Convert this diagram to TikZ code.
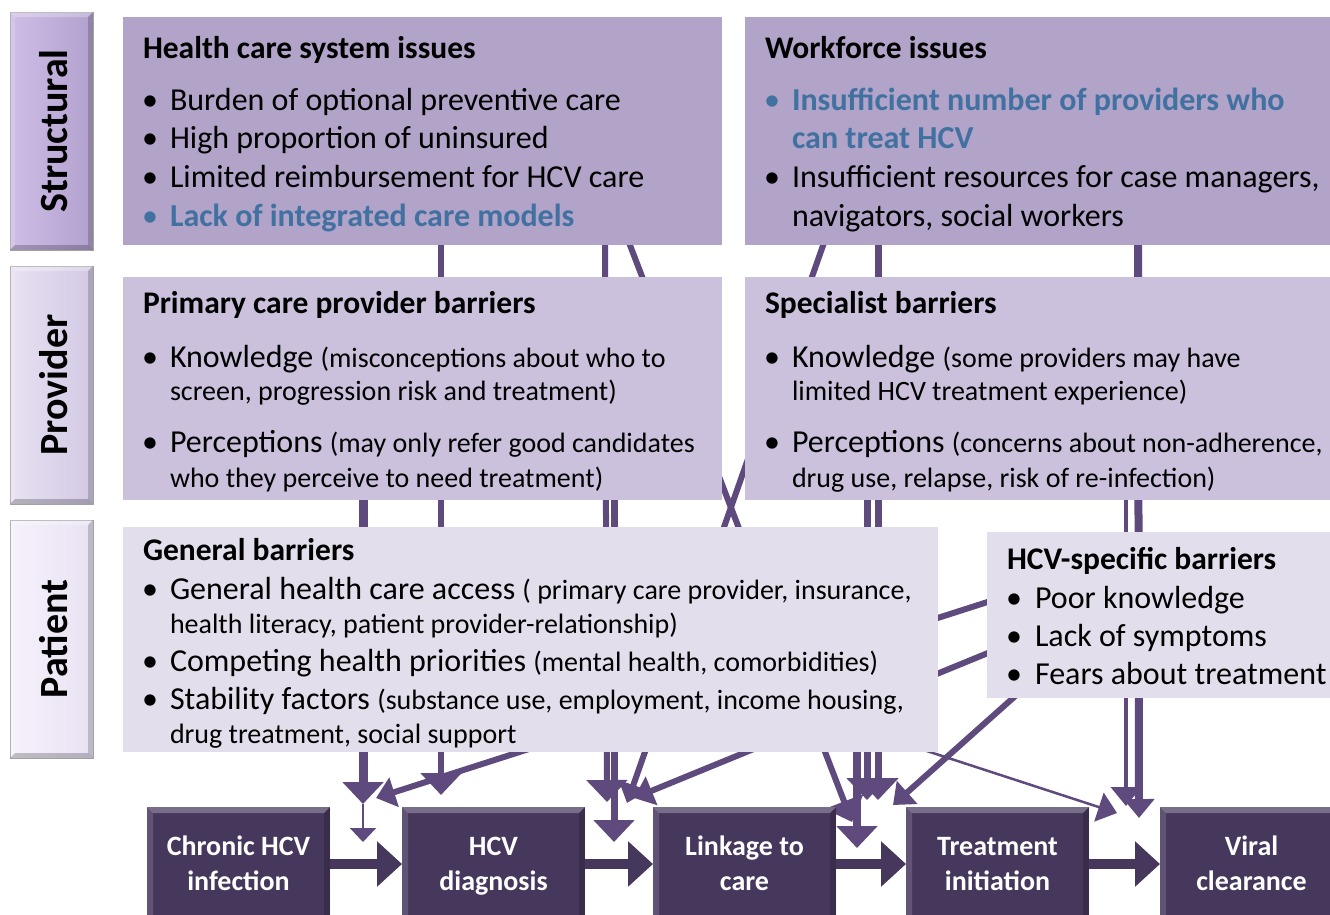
\documentclass[tikz,border=0pt]{standalone}
\usepackage{fontspec}
\setmainfont{Carlito}
\usetikzlibrary{arrows.meta,calc}

\definecolor{strfill}{RGB}{178,163,200}
\definecolor{provfill}{RGB}{203,193,220}
\definecolor{patfill}{RGB}{227,222,236}
\definecolor{flowcol}{RGB}{95,74,125}
\definecolor{stagefill}{RGB}{70,55,92}
\definecolor{hiblue}{RGB}{65,113,160}
\definecolor{labS1}{RGB}{206,190,230}
\definecolor{labS2}{RGB}{178,160,206}
\definecolor{labP1}{RGB}{232,226,242}
\definecolor{labP2}{RGB}{210,200,228}
\definecolor{labT1}{RGB}{246,242,251}
\definecolor{labT2}{RGB}{232,225,243}

\newcommand{\smalltxt}{\fontsize{28}{33}\selectfont}

\tikzset{
  panel/.style={anchor=north west, inner sep=0pt, outer sep=0pt, draw=none},
  label box/.style={anchor=north west, inner sep=0pt, outer sep=0pt, draw=black!35, line width=1pt,
    minimum width=83pt, minimum height=238pt},
  stage/.style={anchor=north west, inner sep=0pt, outer sep=0pt, fill=stagefill,
    minimum width=183pt, minimum height=114pt},
  ln/.style={anchor=base west, inner sep=0pt, outer sep=0pt},
  hd/.style={ln, font=\fontsize{31.5}{36}\selectfont\bfseries},
  tx/.style={ln, font=\fontsize{32}{38}\selectfont},
  sm/.style={ln, font=\smalltxt},
  hi/.style={ln, font=\fontsize{32}{38}\selectfont\bfseries, text=hiblue},
  dot/.style={anchor=base, inner sep=0pt, outer sep=0pt, font=\fontsize{32}{38}\selectfont},
  hidot/.style={dot, text=hiblue},
  stagetxt/.style={anchor=base, inner sep=0pt, text=white, font=\fontsize{28}{33}\selectfont\bfseries},
  labtxt/.style={rotate=90, inner sep=0pt, font=\fontsize{40}{46}\selectfont\bfseries},
  link/.style={draw=flowcol, line width=6pt},
  bighead/.style={-{Triangle[width=40pt,length=22pt]}},
  midhead/.style={-{Triangle[width=30pt,length=19pt]}},
  smallhead/.style={-{Triangle[width=26pt,length=14pt]}},
  flow/.style={draw=stagefill, line width=10pt, -{Triangle[width=44pt,length=25pt]}},
}

% bevelled edges on a rectangular node
\newcommand{\bevelnode}[2]{%
  \fill[white, fill opacity=0.28] (#1.north west) -- (#1.north east) -- ($(#1.north east)+(-#2,#2)$) -- ($(#1.north west)+(#2,#2)$) -- cycle;
  \fill[white, fill opacity=0.14] (#1.north west) -- ($(#1.north west)+(#2,#2)$) -- ($(#1.south west)+(#2,-#2)$) -- (#1.south west) -- cycle;
  \fill[black, fill opacity=0.18] (#1.north east) -- ($(#1.north east)+(-#2,#2)$) -- ($(#1.south east)+(-#2,-#2)$) -- (#1.south east) -- cycle;
  \fill[black, fill opacity=0.22] (#1.south west) -- ($(#1.south west)+(#2,-#2)$) -- ($(#1.south east)+(-#2,-#2)$) -- (#1.south east) -- cycle;
}

\begin{document}
\begin{tikzpicture}[x=1pt, y=-1pt]
\useasboundingbox (0,0) rectangle (1330,914);
\fill[white] (0,0) rectangle (1330,914);
\clip (0,0) rectangle (1330,914);

% connector start points inside the panels
\coordinate (s1) at (441,230);
\coordinate (s2) at (363,480);
\coordinate (s4) at (1000,598);
\coordinate (s5) at (605,230);
\coordinate (s6) at (614,480);
\coordinate (s7) at (826,237);
\coordinate (s8) at (1005,646);
\coordinate (s9) at (628,240);
\coordinate (s10) at (878,230);
\coordinate (s11) at (867,480);
\coordinate (s12) at (857,720);
\coordinate (s13) at (1022,690);
\coordinate (s14) at (700,677);
\coordinate (s15) at (1126,480);
\coordinate (s16) at (1138,230);
% connector ends above the care cascade
\coordinate (e1) at (441,795);
\coordinate (e2) at (363,804);
\coordinate (e3) at (363,842);
\coordinate (e4) at (376,798);
\coordinate (e5) at (607,802);
\coordinate (e6) at (614,842);
\coordinate (e7) at (627,803);
\coordinate (e8) at (634,798);
\coordinate (e9) at (852,822);
\coordinate (e10) at (878,800);
\coordinate (e11) at (867,800);
\coordinate (e12) at (857,848);
\coordinate (e13) at (893,805);
\coordinate (e14) at (1117,813);
\coordinate (e15) at (1126,806);
\coordinate (e16) at (1139,818);

% ---------- connectors (panels hide their hidden parts) ----------
\draw[link, bighead] (s1) -- (e1);
\draw[link, line width=9pt, bighead] (s2) -- (e2);
\draw[link, line width=2pt, smallhead] (e2) -- (e3);
\draw[link, midhead] (s4) -- (e4);
\draw[link, bighead] (s5) -- (e5);
\draw[link, line width=7pt, bighead] (s6) -- (e6);
\draw[link, midhead] (s7) -- (e7);
\draw[link, midhead] (s8) -- (e8);
\draw[link, bighead] (s9) -- (e9);
\draw[link, line width=7pt, bighead] (s10) -- (e10);
\draw[link, line width=7pt, bighead] (s11) -- (e11);
\draw[link, line width=8pt, bighead] (s12) -- (e12);
\draw[link, midhead] (s13) -- (e13);
\draw[link, line width=2.5pt, midhead] (s14) -- (e14);
\draw[link, line width=4pt, midhead] (s15) -- (e15);
\draw[link, line width=8pt, midhead] (s16) -- (e16);

% ---------- panels ----------
\node[panel, fill=strfill, minimum width=599pt, minimum height=228pt] (hcs) at (123,17) {};
\node[panel, fill=strfill, minimum width=600pt, minimum height=228pt] (wf) at (745,17) {};
\node[panel, fill=provfill, minimum width=599pt, minimum height=223pt] (pcp) at (123,277) {};
\node[panel, fill=provfill, minimum width=600pt, minimum height=223pt] (spec) at (745,277) {};
\node[panel, fill=patfill, minimum width=815pt, minimum height=225pt] (gen) at (123,527) {};
\node[panel, fill=patfill, minimum width=360pt, minimum height=166pt] (hcvb) at (987,532) {};

% ---------- level labels ----------
\node[label box, left color=labS1, right color=labS2] (labS) at (10,12) {};
\node[label box, left color=labP1, right color=labP2] (labP) at (10,266) {};
\node[label box, left color=labT1, right color=labT2] (labT) at (10,520) {};
\bevelnode{labS}{5}
\bevelnode{labP}{5}
\bevelnode{labT}{5}
\node[labtxt] (labStxt) at ($(labS.center)+(2,0)$) {Structural};
\node[labtxt] (labPtxt) at ($(labP.center)+(2,0)$) {Provider};
\node[labtxt] (labTtxt) at ($(labT.center)+(2,0)$) {Patient};

% ---------- structural texts ----------
\node[hd] (h1) at (143,58) {Health care system issues};
\node[dot] (b11) at (150,110) {•};
\node[tx] (t11) at (170,110) {Burden of optional preventive care};
\node[dot] (b12) at (150,148) {•};
\node[tx] (t12) at (170,148) {High proportion of uninsured};
\node[dot] (b13) at (150,187) {•};
\node[tx] (t13) at (170,187) {Limited reimbursement for HCV care};
\node[hidot] (b14) at (150,226) {•};
\node[hi] (t14) at (170,226) {Lack of integrated care models};

\node[hd] (h2) at (765,58) {Workforce issues};
\node[hidot] (b21) at (772,110) {•};
\node[hi] (t21) at (792,110) {Insufficient number of providers who};
\node[hi] (t21b) at (792,148) {can treat HCV};
\node[dot] (b22) at (772,187) {•};
\node[tx] (t22) at (792,187) {Insufficient resources for case managers,};
\node[tx] (t22b) at (792,226) {navigators, social workers};

% ---------- provider texts ----------
\node[hd] (h3) at (143,313) {Primary care provider barriers};
\node[dot] (b31) at (150,367) {•};
\node[tx] (t31) at (170,367) {Knowledge {\smalltxt(misconceptions about who to}};
\node[sm] (t31b) at (170,400) {screen, progression risk and treatment)};
\node[dot] (b32) at (150,452) {•};
\node[tx] (t32) at (170,452) {Perceptions {\smalltxt(may only refer good candidates}};
\node[sm] (t32b) at (170,487) {who they perceive to need treatment)};

\node[hd] (h4) at (765,313) {Specialist barriers};
\node[dot] (b41) at (772,367) {•};
\node[tx] (t41) at (792,367) {Knowledge {\smalltxt(some providers may have}};
\node[sm] (t41b) at (792,400) {limited HCV treatment experience)};
\node[dot] (b42) at (772,452) {•};
\node[tx] (t42) at (792,452) {Perceptions {\smalltxt(concerns about non-adherence,}};
\node[sm] (t42b) at (792,487) {drug use, relapse, risk of re-infection)};

% ---------- patient texts ----------
\node[hd] (h5) at (143,560) {General barriers};
\node[dot] (b51) at (150,599) {•};
\node[tx] (t51) at (170,599) {General health care access {\smalltxt( primary care provider, insurance,}};
\node[sm] (t51b) at (170,633) {health literacy, patient provider-relationship)};
\node[dot] (b52) at (150,671) {•};
\node[tx] (t52) at (170,671) {Competing health priorities {\smalltxt(mental health, comorbidities)}};
\node[dot] (b53) at (150,709) {•};
\node[tx] (t53) at (170,709) {Stability factors {\smalltxt(substance use, employment, income housing,}};
\node[sm] (t53b) at (170,743) {drug treatment, social support};

\node[hd] (h6) at (1007,569) {HCV-specific barriers};
\node[dot] (b61) at (1014,608) {•};
\node[tx] (t61) at (1035,608) {Poor knowledge};
\node[dot] (b62) at (1014,646) {•};
\node[tx] (t62) at (1035,646) {Lack of symptoms};
\node[dot] (b63) at (1014,684) {•};
\node[tx] (t63) at (1035,684) {Fears about treatment};

% ---------- care cascade ----------
\node[stage] (c1) at (147,807) {};
\node[stage] (c2) at (402,807) {};
\node[stage] (c3) at (653,807) {};
\node[stage] (c4) at (906,807) {};
\node[stage] (c5) at (1160,807) {};
\foreach \c in {c1,c2,c3,c4,c5} {\bevelnode{\c}{6}}

\node[stagetxt] (c1a) at ($(c1.north)+(0,48)$) {Chronic HCV};
\node[stagetxt] (c1b) at ($(c1.north)+(0,83)$) {infection};
\node[stagetxt] (c2a) at ($(c2.north)+(0,48)$) {HCV};
\node[stagetxt] (c2b) at ($(c2.north)+(0,83)$) {diagnosis};
\node[stagetxt] (c3a) at ($(c3.north)+(0,48)$) {Linkage to};
\node[stagetxt] (c3b) at ($(c3.north)+(0,83)$) {care};
\node[stagetxt] (c4a) at ($(c4.north)+(0,48)$) {Treatment};
\node[stagetxt] (c4b) at ($(c4.north)+(0,83)$) {initiation};
\node[stagetxt] (c5a) at ($(c5.north)+(0,48)$) {Viral};
\node[stagetxt] (c5b) at ($(c5.north)+(0,83)$) {clearance};

\draw[flow] (c1.east) -- (c2.west);
\draw[flow] (c2.east) -- (c3.west);
\draw[flow] (c3.east) -- (c4.west);
\draw[flow] (c4.east) -- (c5.west);
\end{tikzpicture}
\end{document}
